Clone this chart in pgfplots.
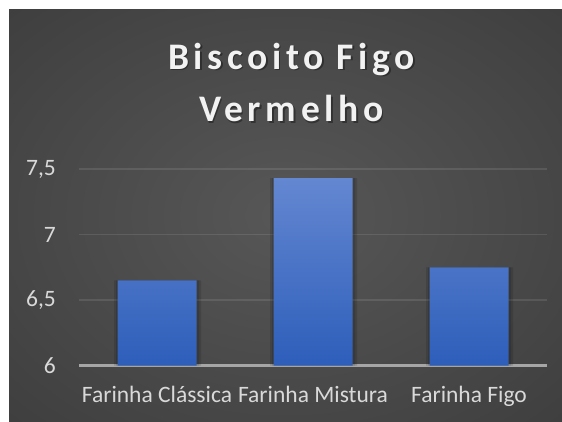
\documentclass[border=0pt]{standalone}
\usepackage{fontspec}
\setmainfont{Carlito}
\newfontfamily\titlefont[LetterSpace=12.5]{Carlito}
\usepackage{pgfplots}
\pgfplotsset{compat=1.18}
\definecolor{bgA}{HTML}{575757}
\definecolor{bgB}{HTML}{353535}
\definecolor{bgC}{HTML}{292929}
\definecolor{barTop}{HTML}{6487D1}
\definecolor{barBot}{HTML}{2D5EBA}
\definecolor{lbl}{HTML}{D9D9D9}
\definecolor{axln}{HTML}{A6A6A6}
\pgfdeclareradialshading{bgshade}{\pgfpoint{0bp}{0bp}}{color(0bp)=(bgA); color(50bp)=(bgB); color(71bp)=(bgC)}
\begin{document}
\begin{tikzpicture}[x=1pt,y=1pt]
\useasboundingbox (0,0) rectangle (562,421);
\fill[white] (0,0) rectangle (562,421);
\shade[shading=bgshade] (9,0) rectangle (562,411);
\tikzset{ttl/.style={font=\titlefont\bfseries\fontsize{37.5}{45}\selectfont, anchor=base, inner sep=0pt}}
\node[ttl, text=black, opacity=0.35] at (293,350.2) {Biscoito Figo};
\node[ttl, text=black, opacity=0.35] at (293,297.8) {Vermelho};
\node[ttl, text=white!95!black] at (291.5,351.7) {Biscoito Figo};
\node[ttl, text=white!95!black] at (291.5,299.3) {Vermelho};
\begin{axis}[
  at={(79pt,55.3pt)}, anchor=south west,
  scale only axis, width=468pt, height=196.7pt,
  xmin=-0.5, xmax=2.5, ymin=6, ymax=7.5,
  ytick={6,6.5,7,7.5},
  xtick={0,1,2},
  xticklabels={Farinha Clássica,Farinha Mistura,Farinha Figo},
  axis x line*=bottom, axis y line*=left,
  x axis line style={axln, line width=2.5pt, -},
  y axis line style={draw=none},
  major tick length=0pt,
  ymajorgrids, grid style={white, opacity=0.1, line width=1.3pt},
  /pgf/number format/use comma,
  /pgf/number format/assume math mode=true,
  yticklabel style={text=lbl, font=\fontsize{23.5}{26}\selectfont, anchor=east, inner sep=0pt, xshift=-23pt},
  xticklabel style={text=lbl, font=\fontsize{23.5}{26}\selectfont, anchor=base, inner sep=0pt, yshift=-37pt},
  ybar, bar width=79pt,
]
\addplot[draw=none, fill=black, opacity=0.12, bar width=87pt, bar shift=0.5pt] coordinates {(0,6.65) (1,7.43) (2,6.75)};
\addplot[draw=none, fill=black, opacity=0.12, bar width=83pt, bar shift=0.5pt] coordinates {(0,6.65) (1,7.43) (2,6.75)};
\addplot[draw=none, top color=barTop, bottom color=barBot, bar shift=0pt] coordinates {(0,6.65) (1,7.43) (2,6.75)};
\end{axis}
\end{tikzpicture}
\end{document}
